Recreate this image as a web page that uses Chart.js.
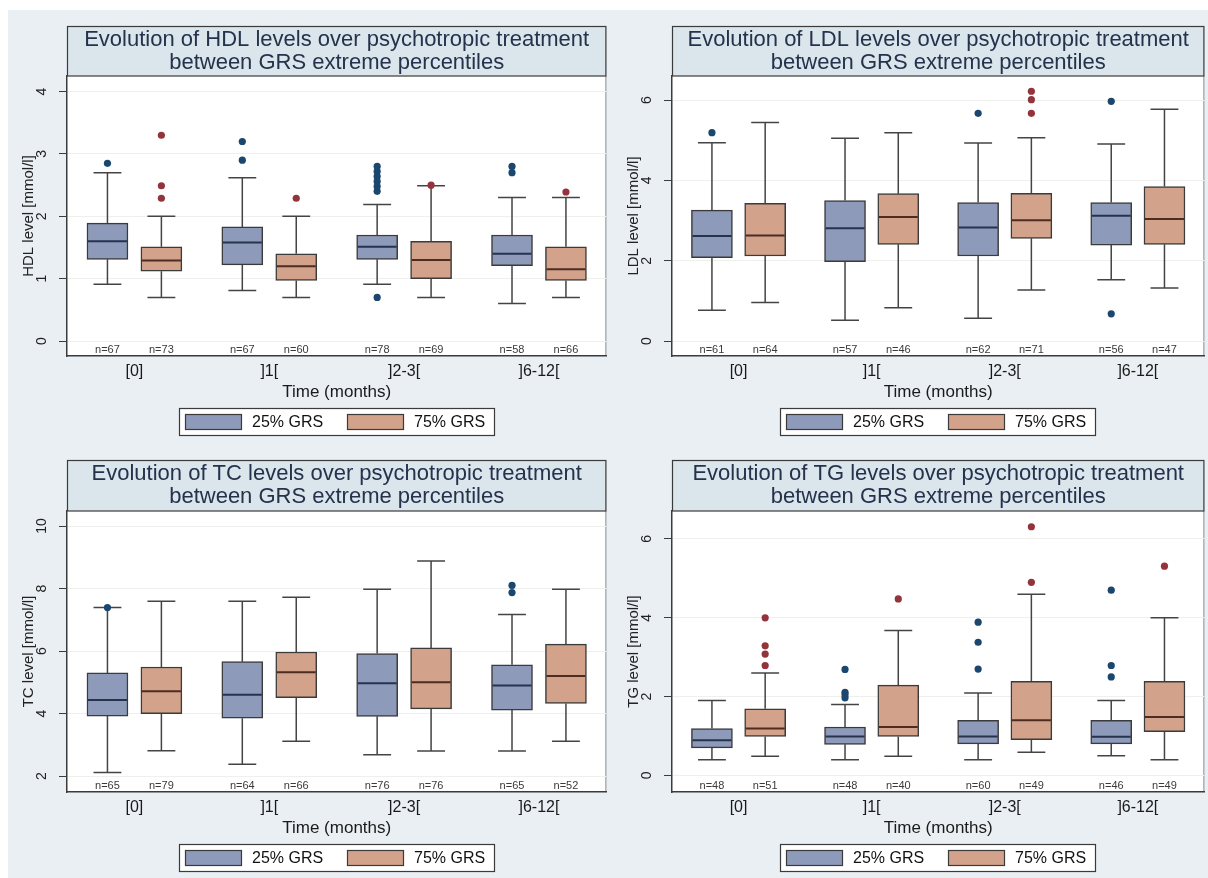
<!DOCTYPE html>
<html>
<head>
<meta charset="utf-8">
<title>Evolution of lipid levels between GRS extreme percentiles</title>
<script src="https://cdn.jsdelivr.net/npm/chart.js@4.4.1/dist/chart.umd.min.js"></script>
<style>
  html, body { margin: 0; padding: 0; background: #ffffff; }
  #page { position: relative; width: 1208px; height: 878px; overflow: hidden; }
  #backdrop { position: absolute; left: 8px; top: 10px; right: 0; bottom: 0; background: #e9eff3; }
  canvas { position: absolute; }
</style>
</head>
<body>
<div id="page">
  <div id="backdrop"></div>
  <canvas id="hdlChart" width="610" height="440" style="left:0;top:0"></canvas>
  <canvas id="ldlChart" width="598" height="440" style="left:610px;top:0"></canvas>
  <canvas id="tcChart" width="610" height="438" style="left:0;top:440px"></canvas>
  <canvas id="tgChart" width="598" height="438" style="left:610px;top:440px"></canvas>
</div>
<script>
const timeLabels = ['[0]', ']1[', ']2-3[', ']6-12['];
const seriesNames = ['25% GRS', '75% GRS'];

// box rows: [lower whisker, Q1, median, Q3, upper whisker], one row per time point
const hdlBox25 = [[0.91, 1.31, 1.60, 1.89, 2.70], [0.81, 1.22, 1.58, 1.83, 2.62], [0.91, 1.31, 1.51, 1.70, 2.19], [0.60, 1.21, 1.40, 1.70, 2.30]];
const hdlBox75 = [[0.70, 1.12, 1.29, 1.51, 2.00], [0.70, 0.97, 1.20, 1.40, 2.00], [0.70, 1.00, 1.30, 1.60, 2.49], [0.70, 0.97, 1.15, 1.51, 2.30]];
const hdlOut25 = [[2.85], [3.20, 2.90], [2.80, 2.72, 2.64, 2.56, 2.48, 2.40, 0.70], [2.80, 2.70]];
const hdlOut75 = [[3.30, 2.49, 2.29], [2.29], [2.50], [2.39]];
const hdlN25 = [67, 67, 78, 58];
const hdlN75 = [73, 60, 69, 66];
const hdlTicks = [0, 1, 2, 3, 4];

const ldlBox25 = [[0.77, 2.08, 2.62, 3.26, 4.94], [0.52, 1.98, 2.81, 3.50, 5.05], [0.57, 2.12, 2.83, 3.45, 4.93], [1.53, 2.39, 3.12, 3.45, 4.91]];
const ldlBox75 = [[0.96, 2.12, 2.63, 3.43, 5.44], [0.83, 2.41, 3.09, 3.67, 5.19], [1.27, 2.56, 3.01, 3.68, 5.06], [1.32, 2.41, 3.04, 3.85, 5.77]];
const ldlOut25 = [[5.19], [], [5.67], [5.97, 0.68]];
const ldlOut75 = [[], [], [6.22, 6.01, 5.67], []];
const ldlN25 = [61, 57, 62, 56];
const ldlN75 = [64, 46, 71, 47];
const ldlTicks = [0, 2, 4, 6];

const tcBox25 = [[2.11, 3.92, 4.43, 5.30, 7.39], [2.38, 3.85, 4.60, 5.66, 7.59], [2.68, 3.91, 4.97, 5.92, 7.98], [2.80, 4.11, 4.90, 5.56, 7.17]];
const tcBox75 = [[2.81, 4.00, 4.71, 5.49, 7.59], [3.11, 4.51, 5.32, 5.97, 7.72], [2.80, 4.15, 5.00, 6.10, 8.88], [3.11, 4.32, 5.20, 6.22, 7.98]];
const tcOut25 = [[7.39], [], [], [8.10, 7.87]];
const tcOut75 = [[], [], [], []];
const tcN25 = [65, 64, 76, 65];
const tcN75 = [79, 66, 76, 52];
const tcTicks = [2, 4, 6, 8, 10];

const tgBox25 = [[0.40, 0.70, 0.89, 1.19, 1.90], [0.40, 0.79, 0.99, 1.23, 1.80], [0.40, 0.80, 0.99, 1.40, 2.09], [0.50, 0.80, 0.98, 1.40, 1.90]];
const tgBox75 = [[0.49, 0.99, 1.19, 1.69, 2.60], [0.49, 0.99, 1.23, 2.29, 3.68], [0.59, 0.91, 1.40, 2.39, 4.60], [0.40, 1.11, 1.48, 2.39, 4.00]];
const tgOut25 = [[], [2.69, 2.11, 2.05, 1.97], [3.89, 3.38, 2.70], [4.70, 2.79, 2.50]];
const tgOut75 = [[4.00, 3.29, 3.08, 2.79], [4.48], [6.31, 4.90], [5.31]];
const tgN25 = [48, 48, 60, 46];
const tgN75 = [51, 40, 49, 49];
const tgTicks = [0, 2, 4, 6];

const FONT = '"Liberation Sans", Arial, Helvetica, sans-serif';
const boxFill = ['#8e9aba', '#d3a28a'];
const dotFill = ['#1b476e', '#93343c'];
const medianColor = ['#27324c', '#4d2c22'];
const ink = '#3b3b3b';
// position of each series inside a time group, in category units
const shift = [-0.2, 0.2];

function drawPanel(canvasId, p) {
  const canvas = document.getElementById(canvasId);
  const boxes = [p.box25, p.box75];
  const outs = [p.out25, p.out75];
  const counts = [p.n25, p.n75];

  const datasets = [];
  // outliers first so they sit on top of the boxes and whiskers
  outs.forEach((o, s) => datasets.push({
    type: 'scatter',
    label: seriesNames[s],
    xAxisID: 'xo',
    order: 0,
    data: o.flatMap((vals, i) => vals.map(v => ({ x: i + shift[s], y: v }))),
    pointRadius: 3.6,
    pointHoverRadius: 3.6,
    pointBackgroundColor: dotFill[s],
    pointBorderWidth: 0
  }));
  boxes.forEach((b, s) => datasets.push({
    type: 'bar',
    label: seriesNames[s],
    xAxisID: 'xo',
    order: 1,
    grouped: false,
    data: b.map((r, i) => ({ x: i + shift[s], y: [r[1], r[3]] })),
    backgroundColor: boxFill[s],
    borderColor: ink,
    borderWidth: 1.5,
    borderSkipped: false,
    barThickness: 41
  }));

  const eachBox = (chart, fn) => {
    [0, 1].forEach(s => {
      chart.getDatasetMeta(2 + s).data.forEach((bar, i) => {
        const { x, width } = bar.getProps(['x', 'width'], true);
        fn(s, i, x, width, boxes[s][i]);
      });
    });
  };

  const decor = {
    id: 'panelDecor',
    beforeDraw(chart) {
      const { ctx, chartArea: a } = chart;
      ctx.save();
      ctx.fillStyle = '#ffffff';
      ctx.fillRect(a.left, a.top, a.right - a.left, a.bottom - a.top);
      ctx.strokeStyle = '#7f888f';
      ctx.lineWidth = 1;
      ctx.beginPath();
      ctx.moveTo(a.right - 0.5, a.top);
      ctx.lineTo(a.right - 0.5, a.bottom);
      ctx.stroke();

      // title strip above the plot
      const top = a.top - p.titleHeight;
      ctx.fillStyle = '#dbe5ec';
      ctx.fillRect(a.left, top, a.right - a.left, p.titleHeight);
      ctx.strokeStyle = ink;
      ctx.lineWidth = 1.2;
      ctx.strokeRect(a.left + 0.5, top + 0.5, a.right - a.left - 1, p.titleHeight - 0.5);
      ctx.fillStyle = '#24324c';
      ctx.font = '22px ' + FONT;
      ctx.textAlign = 'center';
      ctx.textBaseline = 'middle';
      const cx = (a.left + a.right) / 2;
      ctx.fillText(p.title[0], cx, top + 14);
      ctx.fillText(p.title[1], cx, top + 37);
      ctx.restore();
    },
    beforeDatasetsDraw(chart) {
      const { ctx } = chart;
      const y = chart.scales.y;
      ctx.save();
      ctx.strokeStyle = '#444444';
      ctx.lineWidth = 1.5;
      eachBox(chart, (s, i, x, w, r) => {
        const cap = w * 0.34;
        ctx.beginPath();
        ctx.moveTo(x, y.getPixelForValue(r[3]));
        ctx.lineTo(x, y.getPixelForValue(r[4]));
        ctx.moveTo(x, y.getPixelForValue(r[1]));
        ctx.lineTo(x, y.getPixelForValue(r[0]));
        ctx.moveTo(x - cap, y.getPixelForValue(r[4]));
        ctx.lineTo(x + cap, y.getPixelForValue(r[4]));
        ctx.moveTo(x - cap, y.getPixelForValue(r[0]));
        ctx.lineTo(x + cap, y.getPixelForValue(r[0]));
        ctx.stroke();
      });
      ctx.restore();
    },
    afterDatasetsDraw(chart) {
      const { ctx, chartArea: a } = chart;
      const y = chart.scales.y;
      ctx.save();
      ctx.lineWidth = 2;
      eachBox(chart, (s, i, x, w, r) => {
        const my = y.getPixelForValue(r[2]);
        ctx.strokeStyle = medianColor[s];
        ctx.beginPath();
        ctx.moveTo(x - w / 2 + 1, my);
        ctx.lineTo(x + w / 2 - 1, my);
        ctx.stroke();
      });
      ctx.fillStyle = '#3a3a3a';
      ctx.font = '11px ' + FONT;
      ctx.textAlign = 'center';
      ctx.textBaseline = 'middle';
      eachBox(chart, (s, i, x) => ctx.fillText('n=' + counts[s][i], x, a.bottom - 6));
      ctx.restore();
    },
    afterDraw(chart) {
      const { ctx, chartArea: a } = chart;
      const y = chart.scales.y;
      const cx = (a.left + a.right) / 2;
      ctx.save();
      // rotated y tick labels
      ctx.fillStyle = '#222222';
      ctx.font = '14px ' + FONT;
      ctx.textAlign = 'center';
      ctx.textBaseline = 'alphabetic';
      y.ticks.forEach(t => {
        ctx.save();
        ctx.translate(a.left - 21, y.getPixelForValue(t.value));
        ctx.rotate(-Math.PI / 2);
        ctx.fillText(String(t.value), 0, 0);
        ctx.restore();
      });
      ctx.save();
      ctx.font = '15px ' + FONT;
      ctx.translate(a.left - 34, (a.top + a.bottom) / 2);
      ctx.rotate(-Math.PI / 2);
      ctx.fillText(p.yTitle, 0, 0);
      ctx.restore();

      ctx.fillStyle = '#1a1a1a';
      ctx.font = '17px ' + FONT;
      ctx.textBaseline = 'middle';
      ctx.fillText('Time (months)', cx, a.bottom + 36);

      // legend
      const lw = 316, lh = 28;
      const lx = Math.round(cx - lw / 2), ly = a.bottom + 52;
      ctx.fillStyle = '#ffffff';
      ctx.fillRect(lx, ly, lw, lh);
      ctx.strokeStyle = ink;
      ctx.lineWidth = 1.2;
      ctx.strokeRect(lx + 0.5, ly + 0.5, lw - 1, lh - 1);
      ctx.font = '16px ' + FONT;
      ctx.textAlign = 'left';
      [0, 1].forEach(s => {
        const sx = lx + 6 + s * 162;
        ctx.fillStyle = boxFill[s];
        ctx.fillRect(sx, ly + 6, 57, 16);
        ctx.strokeRect(sx + 0.5, ly + 6.5, 56, 15);
        ctx.fillStyle = '#111111';
        ctx.fillText(seriesNames[s], sx + 67, ly + 14.5);
      });
      ctx.restore();
    }
  };

  new Chart(canvas, {
    type: 'bar',
    data: { labels: timeLabels, datasets },
    options: {
      responsive: false,
      maintainAspectRatio: false,
      animation: false,
      events: [],
      layout: { padding: { left: 0, right: canvas.width - p.frame.right, top: p.frame.top, bottom: 0 } },
      plugins: { legend: { display: false }, tooltip: { enabled: false } },
      scales: {
        x: {
          type: 'category',
          offset: true,
          grid: { display: false, drawTicks: false },
          border: { display: true, color: ink, width: 1.5 },
          ticks: { color: '#1a1a1a', font: { family: FONT, size: 16 }, padding: 6, maxRotation: 0 },
          afterFit: scale => { scale.height = canvas.height - p.frame.bottom; }
        },
        xo: { type: 'linear', display: false, offset: false, min: -0.5, max: 3.5 },
        y: {
          min: p.yMin,
          max: p.yMax,
          afterBuildTicks: scale => { scale.ticks = p.ticks.map(v => ({ value: v })); },
          ticks: { display: false },
          grid: { color: '#efefec', lineWidth: 1, drawTicks: true, tickLength: 8, tickColor: ink },
          border: { display: true, color: ink, width: 1.5 },
          afterFit: scale => { scale.width = p.frame.left; }
        }
      }
    },
    plugins: [decor]
  });
}

drawPanel('hdlChart', {
  title: ['Evolution of HDL levels over psychotropic treatment', 'between GRS extreme percentiles'],
  yTitle: 'HDL level [mmol/l]',
  box25: hdlBox25, box75: hdlBox75, out25: hdlOut25, out75: hdlOut75, n25: hdlN25, n75: hdlN75,
  ticks: hdlTicks, yMin: -0.24, yMax: 4.25,
  frame: { left: 67, right: 608, top: 76, bottom: 356 }, titleHeight: 50
});
drawPanel('ldlChart', {
  title: ['Evolution of LDL levels over psychotropic treatment', 'between GRS extreme percentiles'],
  yTitle: 'LDL level [mmol/l]',
  box25: ldlBox25, box75: ldlBox75, out25: ldlOut25, out75: ldlOut75, n25: ldlN25, n75: ldlN75,
  ticks: ldlTicks, yMin: -0.37, yMax: 6.6,
  frame: { left: 62, right: 598, top: 76, bottom: 356 }, titleHeight: 50
});
drawPanel('tcChart', {
  title: ['Evolution of TC levels over psychotropic treatment', 'between GRS extreme percentiles'],
  yTitle: 'TC level [mmol/l]',
  box25: tcBox25, box75: tcBox75, out25: tcOut25, out75: tcOut75, n25: tcN25, n75: tcN75,
  ticks: tcTicks, yMin: 1.49, yMax: 10.48,
  frame: { left: 67, right: 608, top: 71, bottom: 352 }, titleHeight: 51
});
drawPanel('tgChart', {
  title: ['Evolution of TG levels over psychotropic treatment', 'between GRS extreme percentiles'],
  yTitle: 'TG level [mmol/l]',
  box25: tgBox25, box75: tgBox75, out25: tgOut25, out75: tgOut75, n25: tgN25, n75: tgN75,
  ticks: tgTicks, yMin: -0.42, yMax: 6.71,
  frame: { left: 62, right: 598, top: 71, bottom: 352 }, titleHeight: 51
});
</script>
</body>
</html>
